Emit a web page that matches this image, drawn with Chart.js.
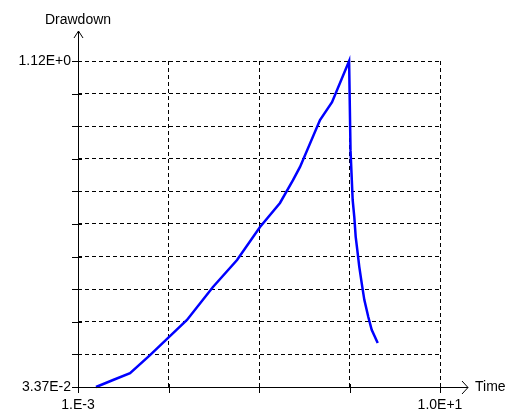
<!DOCTYPE html>
<html>
<head>
<meta charset="utf-8">
<script src="https://cdn.jsdelivr.net/npm/chart.js@4.4.1/dist/chart.umd.min.js"></script>
<style>
  html, body { margin: 0; padding: 0; background: #fff; }
  canvas { display: block; }
</style>
</head>
<body>
<canvas id="chart" width="510" height="416"></canvas>
<script>
// time (log axis) and drawdown values
const timeValues = [0.00158, 0.00244, 0.00376, 0.00625, 0.0101, 0.0160, 0.0310, 0.0572, 0.1026, 0.1706,
  0.2375, 0.284, 0.472, 0.641, 0.99, 1.026, 1.057, 1.084, 1.130, 1.171, 1.220, 1.283, 1.364, 1.458,
  1.614, 1.759, 2.05];
const drawdownValues = [0.0337, 0.057, 0.080, 0.140, 0.200, 0.257, 0.367, 0.457, 0.567, 0.647,
  0.723, 0.767, 0.923, 0.983, 1.12, 0.823, 0.733, 0.657, 0.600, 0.534, 0.490, 0.434, 0.380, 0.324,
  0.267, 0.224, 0.180];

const xTickValues = [0.001, 0.01, 0.1, 1, 10];
const xTickLabels = ['1.E-3', '', '', '', '1.0E+1'];
const yTickValues = [0.0337, 0.1423, 0.2510, 0.3596, 0.4682, 0.5769, 0.6855, 0.7941, 0.9027, 1.0114, 1.12];
const yTickLabels = ['3.37E-2', '', '', '', '', '', '', '', '', '', '1.12E+0'];

const FONT = 'Liberation Sans, Arial, sans-serif';

// solid axes with arrow heads + axis names
const axisArrows = {
  id: 'axisArrows',
  afterDraw(chart) {
    const ctx = chart.ctx;
    const xs = chart.scales.x, ys = chart.scales.y;
    const x0 = xs.getPixelForValue(xTickValues[0]);
    const y0 = ys.getPixelForValue(yTickValues[0]);
    ctx.save();
    ctx.strokeStyle = '#000';
    ctx.lineWidth = 1;
    ctx.setLineDash([]);
    ctx.beginPath();
    ctx.moveTo(x0 + 0.5, y0 + 6);
    ctx.lineTo(x0 + 0.5, 31);
    ctx.moveTo(x0 - 4, 38);
    ctx.lineTo(x0 + 0.5, 31);
    ctx.lineTo(x0 + 5, 38);
    ctx.moveTo(x0 - 6, y0 + 0.5);
    ctx.lineTo(468, y0 + 0.5);
    ctx.moveTo(462, y0 - 6);
    ctx.lineTo(468, y0 + 0.5);
    ctx.lineTo(462, y0 + 7);
    // tick crosses
    yTickValues.forEach(v => {
      const y = Math.round(ys.getPixelForValue(v)) + 0.5;
      ctx.moveTo(x0 - 6, y);
      ctx.lineTo(x0 + 4, y);
    });
    xTickValues.forEach(v => {
      const x = Math.round(xs.getPixelForValue(v)) + 0.5;
      ctx.moveTo(x, y0 - 3);
      ctx.lineTo(x, y0 + 6);
    });
    ctx.stroke();

    ctx.fillStyle = '#000';
    ctx.font = '14px ' + FONT;
    ctx.textBaseline = 'middle';
    ctx.textAlign = 'center';
    ctx.fillText('Drawdown', x0, 20);
    ctx.textAlign = 'left';
    ctx.fillText('Time', 475, y0);
    ctx.restore();
  }
};

new Chart(document.getElementById('chart'), {
  type: 'line',
  data: {
    datasets: [{
      data: timeValues.map((t, i) => ({ x: t, y: drawdownValues[i] })),
      borderColor: '#0000ff',
      borderWidth: 2.5,
      pointRadius: 0,
      tension: 0,
      fill: false,
      clip: false
    }]
  },
  options: {
    responsive: false,
    animation: false,
    devicePixelRatio: 1,
    layout: { padding: { top: 61, right: 70, left: 0, bottom: 0 } },
    plugins: {
      legend: { display: false },
      tooltip: { enabled: false }
    },
    scales: {
      x: {
        type: 'logarithmic',
        min: 0.001,
        max: 10,
        afterBuildTicks: (s) => { s.ticks = xTickValues.map(v => ({ value: v })); },
        afterFit: (s) => { s.height = 29; },
        ticks: {
          autoSkip: false,
          maxRotation: 0,
          padding: 10,
          color: '#000',
          font: { family: FONT, size: 14 },
          callback: (v, i) => xTickLabels[i]
        },
        grid: { color: '#000', lineWidth: 1, drawTicks: false },
        border: { display: false, dash: [4, 3] }
      },
      y: {
        type: 'linear',
        min: yTickValues[0],
        max: yTickValues[yTickValues.length - 1],
        afterBuildTicks: (s) => { s.ticks = yTickValues.map(v => ({ value: v })); },
        afterFit: (s) => { s.width = 78; },
        ticks: {
          autoSkip: false,
          padding: 7,
          color: '#000',
          font: { family: FONT, size: 14 },
          callback: (v, i) => yTickLabels[i]
        },
        grid: { color: '#000', lineWidth: 1, drawTicks: false },
        border: { display: false, dash: [4, 3] }
      }
    }
  },
  plugins: [axisArrows]
});
</script>
</body>
</html>
